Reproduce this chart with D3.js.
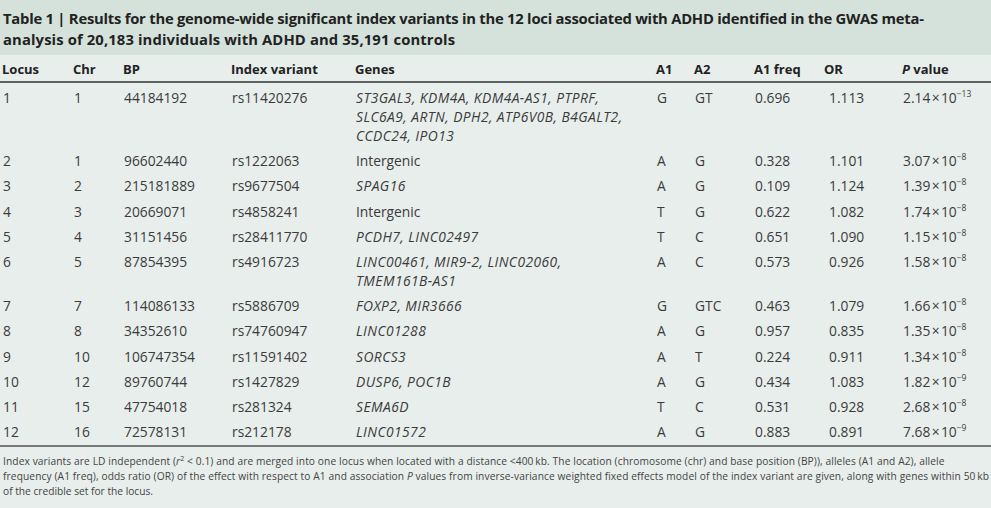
<!DOCTYPE html>
<html>
<head>
<meta charset="utf-8">
<script src="https://d3js.org/d3.v7.min.js"></script>
<style>
  html, body { margin: 0; padding: 0; background: #e8eeeb; }
  svg { display: block; font-family: "Open Sans", sans-serif; }
</style>
</head>
<body>
<div id="table"></div>
<script>
// table content
const titleLines = [
    "Results for the genome-wide significant index variants in the 12 loci associated with ADHD identified in the GWAS meta-",
    "analysis of 20,183 individuals with ADHD and 35,191 controls"
];
const headers = ["Locus", "Chr", "BP", "Index variant", "Genes", "A1", "A2", "A1 freq", "OR", "P value"];
const locus = [1, 2, 3, 4, 5, 6, 7, 8, 9, 10, 11, 12];
const chr = [1, 1, 2, 3, 4, 5, 7, 8, 10, 12, 15, 16];
const bp = [44184192, 96602440, 215181889, 20669071, 31151456, 87854395, 114086133, 34352610, 106747354, 89760744, 47754018, 72578131];
const variants = ["rs11420276", "rs1222063", "rs9677504", "rs4858241", "rs28411770", "rs4916723", "rs5886709", "rs74760947", "rs11591402", "rs1427829", "rs281324", "rs212178"];
const genes = [
    ["ST3GAL3, KDM4A, KDM4A-AS1, PTPRF,", "SLC6A9, ARTN, DPH2, ATP6V0B, B4GALT2,", "CCDC24, IPO13"],
    ["Intergenic"],
    ["SPAG16"],
    ["Intergenic"],
    ["PCDH7, LINC02497"],
    ["LINC00461, MIR9-2, LINC02060,", "TMEM161B-AS1"],
    ["FOXP2, MIR3666"],
    ["LINC01288"],
    ["SORCS3"],
    ["DUSP6, POC1B"],
    ["SEMA6D"],
    ["LINC01572"]
];
const a1 = ["G", "A", "A", "T", "T", "A", "G", "A", "A", "A", "T", "A"];
const a2 = ["GT", "G", "G", "G", "C", "C", "GTC", "G", "T", "G", "C", "G"];
const a1freq = ["0.696", "0.328", "0.109", "0.622", "0.651", "0.573", "0.463", "0.957", "0.224", "0.434", "0.531", "0.883"];
const oddsRatio = ["1.113", "1.101", "1.124", "1.082", "1.090", "0.926", "1.079", "0.835", "0.911", "1.083", "0.928", "0.891"];
const pMant = ["2.14", "3.07", "1.39", "1.74", "1.15", "1.58", "1.66", "1.35", "1.34", "1.82", "2.68", "7.68"];
const pExp = [-13, -8, -8, -8, -8, -8, -8, -8, -8, -9, -8, -9];
const footnote = [
    "Index variants are LD independent (r\u00B2 < 0.1) and are merged into one locus when located with a distance <400\u2009kb. The location (chromosome (chr) and base position (BP)), alleles (A1 and A2), allele",
    "frequency (A1 freq), odds ratio (OR) of the effect with respect to A1 and association P values from inverse-variance weighted fixed effects model of the index variant are given, along with genes within 50\u2009kb",
    "of the credible set for the locus."
];

const width = 991, height = 508;
const textColor = "#3b3b3b";

const svg = d3.select("#table").append("svg")
    .attr("width", width)
    .attr("height", height);

// backgrounds
svg.append("rect").attr("width", width).attr("height", height).attr("fill", "#e8eeeb");
svg.append("rect").attr("width", width).attr("height", 55).attr("fill", "#d5e2db");

// title
const title = svg.append("g").attr("font-weight", 700).attr("font-size", 14.8).attr("fill", "#222");
title.append("text").attr("x", 3).attr("y", 24)
    .attr("textLength", 921).attr("lengthAdjust", "spacing")
    .text("Table 1 | " + titleLines[0]);
title.append("text").attr("x", 3).attr("y", 45)
    .attr("textLength", 452).attr("lengthAdjust", "spacing")
    .text(titleLines[1]);

// column positions
const colX = d3.scaleOrdinal()
    .domain(headers)
    .range([3, 74, 124, 232, 356, 657, 695, 755, 829, 903]);
const headX = d => d === "OR" ? colX(d) - 5 : colX(d) - 1;

// header row
const head = svg.append("g").attr("font-weight", 700).attr("font-size", 13).attr("fill", "#222");
head.selectAll("text")
    .data(headers)
    .join("text")
    .attr("x", headX)
    .attr("y", 74)
    .each(function (d) {
        const t = d3.select(this);
        if (d === "P value") {
            t.append("tspan").attr("font-style", "italic").text("P");
            t.append("tspan").text(" value");
        } else {
            t.text(d);
        }
    });

svg.append("line").attr("x1", 0).attr("x2", width).attr("y1", 82).attr("y2", 82)
    .attr("stroke", "#333").attr("stroke-width", 1.5);

// row vertical positions: extra gene lines push following rows down
const extraBefore = d3.cumsum(genes.map(g => g.length - 1));
const rowY = d3.scaleLinear().domain([0, 1]).range([98, 98 + 25.2]);
const lineGap = 19;
const yOf = i => rowY(i) + (i > 0 ? extraBefore[i - 1] : 0) * lineGap;

const rows = svg.append("g")
    .attr("font-size", 13.8)
    .attr("fill", textColor)
    .selectAll("g")
    .data(locus)
    .join("g")
    .attr("transform", (d, i) => `translate(0,${yOf(i) + 5})`);

const simpleCols = [
    ["Locus", locus], ["Chr", chr], ["BP", bp], ["Index variant", variants],
    ["A1", a1], ["A2", a2], ["A1 freq", a1freq], ["OR", oddsRatio]
];
simpleCols.forEach(([key, arr]) => {
    rows.append("text")
        .attr("x", colX(key))
        .text((d, i) => arr[i]);
});

// genes (italic except Intergenic)
rows.each(function (d, i) {
    const g = d3.select(this);
    g.selectAll("text.gene")
        .data(genes[i])
        .join("text")
        .attr("class", "gene")
        .attr("x", colX("Genes"))
        .attr("y", (t, j) => j * lineGap)
        .attr("font-style", t => t === "Intergenic" ? "normal" : "italic")
        .attr("letter-spacing", t => t === "Intergenic" ? 0 : 0.45)
        .text(t => t);
});

// P values with superscript exponent
rows.append("text")
    .attr("x", colX("P value"))
    .each(function (d, i) {
        const t = d3.select(this);
        t.append("tspan").text(pMant[i] + "\u200A\u00D7\u200A10");
        t.append("tspan").attr("dy", -6).attr("font-size", 8.5)
            .text("\u2212" + Math.abs(pExp[i]));
    });

svg.append("line").attr("x1", 0).attr("x2", width).attr("y1", 446).attr("y2", 446)
    .attr("stroke", "#555").attr("stroke-width", 1.5);

// footnote
const foot = svg.append("g").attr("font-size", 10.2).attr("fill", "#444");
foot.selectAll("text")
    .data(footnote)
    .join("text")
    .attr("x", 3)
    .attr("y", (d, i) => 465 + i * 15)
    .each(function (d, i) {
        const t = d3.select(this);
        if (i === 0) {
            t.attr("letter-spacing", 0.1);
            const parts = d.split("r\u00B2");
            t.append("tspan").text(parts[0]);
            t.append("tspan").attr("font-style", "italic").text("r");
            t.append("tspan").attr("dy", -4).attr("font-size", 7).text("2");
            t.append("tspan").attr("dy", 4).text(parts[1]);
        } else if (i === 1) {
            t.attr("textLength", 986).attr("lengthAdjust", "spacing");
            const parts = d.split(" P ");
            t.append("tspan").text(parts[0] + " ");
            t.append("tspan").attr("font-style", "italic").text("P");
            t.append("tspan").text(" " + parts[1]);
        } else {
            t.text(d);
        }
    });
</script>
</body>
</html>
